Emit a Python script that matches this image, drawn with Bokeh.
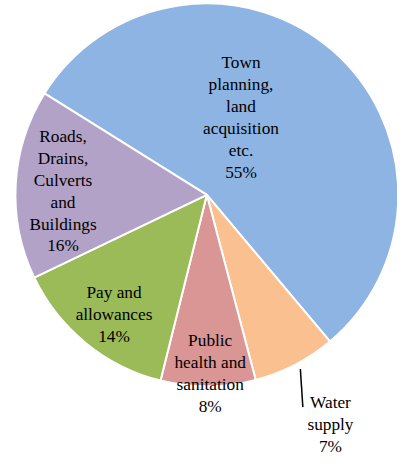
import math
from bokeh.plotting import figure
from bokeh.models import ColumnDataSource, Range1d
from bokeh.core.properties import value
from bokeh.embed import file_html
from bokeh.resources import INLINE

# ---- data ----
categories = ["Town\nplanning,\nland\nacquisition\netc.", "Water\nsupply",
              "Public\nhealth and\nsanitation", "Pay and\nallowances",
              "Roads,\nDrains,\nCulverts\nand\nBuildings"]
percent = [55, 7, 8, 14, 16]
colors = ["#8EB4E3", "#FAC090", "#D99694", "#9BBB59", "#B3A2C7"]

# ---- layout (reference pixels, y down, then scaled to fit) ----
W, H = 397, 457
S = 0.962
CXr, CYr, Rr = 214.5, 202.0, 199.0
START_DEG = 148.0  # first slice starts here, slices run clockwise
# label block centre offsets from pie centre (pixels, y down)
label_off = [(35.5, -80.3), (128.5, 238.5), (3.5, 185.5), (-96.5, 124.7), (-149.5, -3.7)]
leader_off = [(97.2, 181.0), (99.8, 220.7)]


def fx(X):
    return S * X


def fy(Y):
    return H - S * Y


total = float(sum(percent))
starts, ends = [], []
a = math.radians(START_DEG)
for v in percent:
    span = 2 * math.pi * v / total
    starts.append(a)
    ends.append(a - span)
    a -= span

src = ColumnDataSource(dict(start=starts, end=ends, color=colors))

p = figure(width=W, height=H, output_backend="svg", toolbar_location=None,
           x_range=Range1d(0, W), y_range=Range1d(0, H), min_border=0)
p.axis.visible = False
p.grid.visible = False
p.outline_line_color = None
p.background_fill_color = "white"
p.border_fill_color = "white"

p.wedge(x=fx(CXr), y=fy(CYr), radius=S * Rr, start_angle="start", end_angle="end",
        direction="clock", fill_color="color", line_color="white",
        line_width=2, source=src)

texts = [c + "\n" + f"{v}%" for c, v in zip(categories, percent)]
lx = [fx(CXr + dx) for dx, dy in label_off]
ly = [fy(CYr + dy) for dx, dy in label_off]
p.text(x=lx, y=ly, text=texts, text_font=value("Liberation Serif"),
       text_font_size="17.3px", text_align="center", text_baseline="middle",
       text_line_height=1.15, text_color="black")

# leader line for Water supply
p.line(x=[fx(CXr + dx) for dx, dy in leader_off],
       y=[fy(CYr + dy) for dx, dy in leader_off],
       line_color="black", line_width=1.5)

open("out.html", "w").write(file_html(p, INLINE))
